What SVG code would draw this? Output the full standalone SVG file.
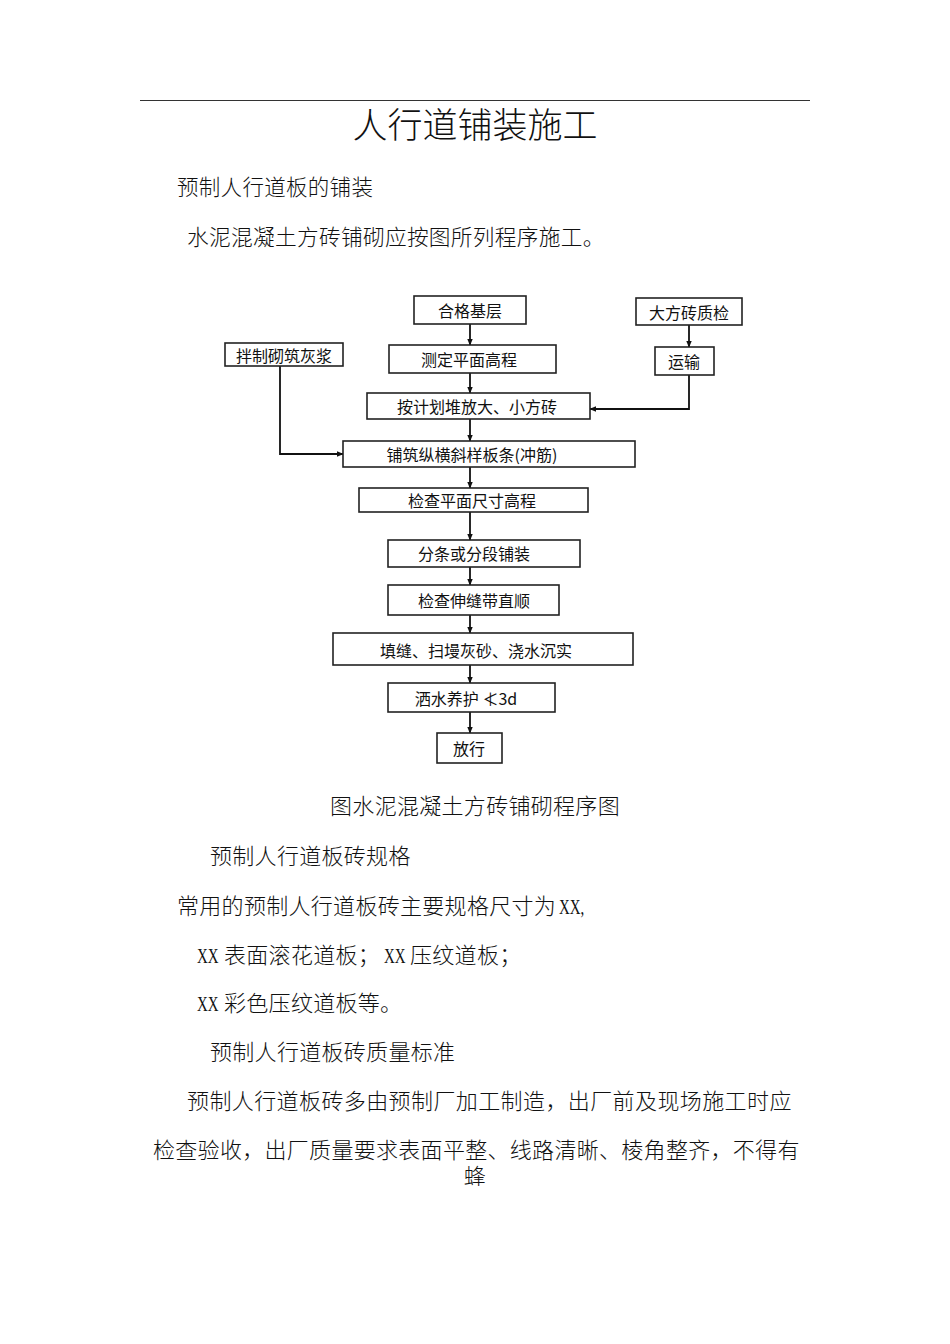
<svg xmlns="http://www.w3.org/2000/svg" width="950" height="1344" viewBox="0 0 950 1344">
<defs>
<marker id="ah" viewBox="0 0 10 10" refX="9" refY="5" markerWidth="7" markerHeight="7" markerUnits="userSpaceOnUse" orient="auto">
<path d="M0,1 L10,5 L0,9 Z" fill="#111"/>
</marker>
<style>
.doc{font-family:"Liberation Serif","Noto Sans CJK SC",serif;font-weight:300;fill:#111;letter-spacing:0.3px;}
.xx{font-family:"Liberation Serif",serif;font-size:22px;fill:#111;}
.box rect{fill:#fff;stroke:#222;stroke-width:1.6;}
.box text{font-family:"Noto Sans CJK SC",sans-serif;font-size:16px;fill:#111;text-anchor:middle;dominant-baseline:central;}
.conn path{fill:none;stroke:#111;stroke-width:1.8;marker-end:url(#ah);}
</style>
</defs>
<rect width="950" height="1344" fill="#fff"/>
<line x1="140" y1="100.5" x2="810" y2="100.5" stroke="#333" stroke-width="1.2"/>
<text class="doc" x="475" y="138" font-size="35" text-anchor="middle" style="letter-spacing:0">人行道铺装施工</text>
<text class="doc" x="177" y="195" font-size="21.5">预制人行道板的铺装</text>
<text class="doc" x="187" y="245" font-size="21.7">水泥混凝土方砖铺砌应按图所列程序施工。</text>

<g class="conn">
<path d="M470,324 V345"/>
<path d="M470,373 V393"/>
<path d="M470,419 V441"/>
<path d="M470,467 V488"/>
<path d="M470,512 V540"/>
<path d="M470,567 V585"/>
<path d="M470,615 V633"/>
<path d="M470,665 V683"/>
<path d="M470,712 V733"/>
<path d="M689,325 V347"/>
<path d="M689,375 V409 H590"/>
<path d="M280,366 V454 H343"/>
</g>

<g id="n1" class="box"><rect x="414" y="296" width="112" height="28"/><text x="470" y="310">合格基层</text></g>
<g id="n2" class="box"><rect x="636" y="298" width="106" height="27"/><text x="689" y="312">大方砖质检</text></g>
<g id="n3" class="box"><rect x="225" y="343" width="118" height="23"/><text x="284" y="355">拌制砌筑灰浆</text></g>
<g id="n4" class="box"><rect x="389" y="345" width="167" height="28"/><text x="469" y="359">测定平面高程</text></g>
<g id="n5" class="box"><rect x="655" y="347" width="59" height="28"/><text x="684" y="361">运输</text></g>
<g id="n6" class="box"><rect x="367" y="393" width="223" height="26"/><text x="477" y="406">按计划堆放大、小方砖</text></g>
<g id="n7" class="box"><rect x="343" y="441" width="292" height="26"/><text x="472" y="454">铺筑纵横斜样板条(冲筋)</text></g>
<g id="n8" class="box"><rect x="359" y="488" width="229" height="24"/><text x="472" y="500">检查平面尺寸高程</text></g>
<g id="n9" class="box"><rect x="388" y="540" width="192" height="27"/><text x="474" y="553">分条或分段铺装</text></g>
<g id="n10" class="box"><rect x="388" y="585" width="171" height="30"/><text x="474" y="600">检查伸缝带直顺</text></g>
<g id="n11" class="box"><rect x="333" y="633" width="300" height="32"/><text x="476" y="650">填缝、扫墁灰砂、浇水沉实</text></g>
<g id="n12" class="box"><rect x="388" y="683" width="167" height="29"/><text x="466" y="698">洒水养护 ≮3d</text></g>
<g id="n13" class="box"><rect x="437" y="733" width="65" height="30"/><text x="469" y="748">放行</text></g>

<text class="doc" x="475" y="814" font-size="22" text-anchor="middle">图水泥混凝土方砖铺砌程序图</text>
<text class="doc" x="210" y="864" font-size="22">预制人行道板砖规格</text>
<text class="doc" x="177" y="914" font-size="22">常用的预制人行道板砖主要规格尺寸为</text>
<text class="xx" transform="translate(559,914) scale(0.68,1)">XX,</text>
<text class="xx" transform="translate(197,963) scale(0.68,1)">XX</text>
<text class="doc" x="224" y="963" font-size="22">表面滚花道板；</text>
<text class="xx" transform="translate(384,963) scale(0.68,1)">XX</text>
<text class="doc" x="410" y="963" font-size="22">压纹道板；</text>
<text class="xx" transform="translate(197,1011) scale(0.68,1)">XX</text>
<text class="doc" x="224" y="1011" font-size="22">彩色压纹道板等。</text>
<text class="doc" x="210" y="1060" font-size="22">预制人行道板砖质量标准</text>
<text class="doc" x="187" y="1109" font-size="22" style="letter-spacing:0.4px">预制人行道板砖多由预制厂加工制造，出厂前及现场施工时应</text>
<text class="doc" x="153" y="1158" font-size="22">检查验收，出厂质量要求表面平整、线路清晰、棱角整齐，不得有</text>
<text class="doc" x="475" y="1184" font-size="22" text-anchor="middle">蜂</text>
</svg>
